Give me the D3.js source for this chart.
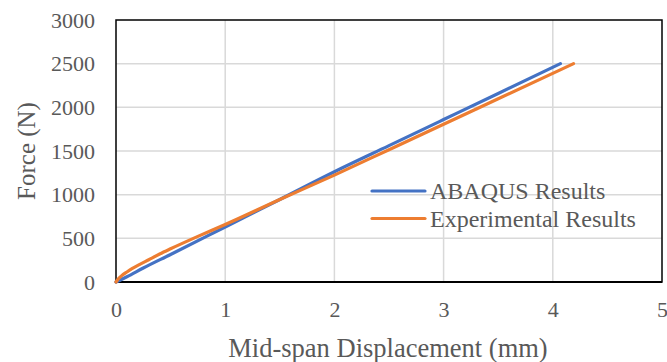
<!DOCTYPE html>
<html>
<head>
<meta charset="utf-8">
<script src="https://cdn.jsdelivr.net/npm/d3@7"></script>
<style>
  body { margin: 0; background: #fff; }
  text { font-family: "Liberation Serif", "Times New Roman", serif; fill: #595959; }
</style>
</head>
<body>
<div class="canvas"></div>
<script>
// displacement (mm) / force (N)
const abaqusDisp = [0, 0.1, 0.25, 0.5, 1, 1.5, 2, 2.5, 3, 3.5, 4.07];
const abaqusForce = [0, 60, 160, 315, 630, 945, 1262, 1561, 1860, 2159, 2500];
const expDisp = [0, 0.02, 0.05, 0.1, 0.15, 0.2, 0.3, 0.4, 0.5, 0.75, 1, 1.5, 2, 2.5, 3, 3.5, 4.19];
const expForce = [0, 35, 70, 115, 155, 190, 255, 320, 380, 522, 658, 945, 1224, 1515, 1807, 2098, 2500];
const xTicks = [0, 1, 2, 3, 4, 5];
const yTicks = [0, 500, 1000, 1500, 2000, 2500, 3000];
const seriesNames = ["ABAQUS Results", "Experimental Results"];
const seriesColors = ["#4472C4", "#ED7D31"];

const w = 667, h = 362;
const m = { left: 116, right: 5, top: 20, bottom: 80 };

const svg = d3.select(".canvas").append("svg").attr("width", w).attr("height", h);

const x = d3.scaleLinear([0, 5], [m.left, w - m.right]);
const y = d3.scaleLinear([0, 3000], [h - m.bottom, m.top]);

// grid
svg.append("g").selectAll("line").data(xTicks.slice(1, -1)).join("line")
  .attr("x1", d => x(d)).attr("x2", d => x(d))
  .attr("y1", y(0)).attr("y2", y(3000))
  .attr("stroke", "#d9d9d9").attr("stroke-width", 1.5);
svg.append("g").selectAll("line").data(yTicks.slice(1, -1)).join("line")
  .attr("x1", x(0)).attr("x2", x(5))
  .attr("y1", d => y(d)).attr("y2", d => y(d))
  .attr("stroke", "#d9d9d9").attr("stroke-width", 1.5);

// frame
svg.append("rect")
  .attr("x", x(0)).attr("y", y(3000))
  .attr("width", x(5) - x(0)).attr("height", y(0) - y(3000))
  .attr("fill", "none").attr("stroke", "#000").attr("stroke-width", 1.5);
svg.append("line")
  .attr("x1", x(0)).attr("x2", x(5)).attr("y1", y(0)).attr("y2", y(0))
  .attr("stroke", "#000").attr("stroke-width", 2);

// axes (labels only)
const xAxis = d3.axisBottom(x).tickValues(xTicks).tickSize(0).tickPadding(19).tickFormat(d3.format("d"));
svg.append("g").attr("transform", `translate(0, ${y(0)})`).call(xAxis)
  .call(g => g.select(".domain").remove())
  .selectAll("text").style("font-size", "22px").attr("fill", "#595959");
const yAxis = d3.axisLeft(y).tickValues(yTicks).tickSize(0).tickPadding(21).tickFormat(d3.format("d"));
svg.append("g").attr("transform", `translate(${x(0)}, 0)`).call(yAxis)
  .call(g => g.select(".domain").remove())
  .selectAll("text").style("font-size", "22px").attr("fill", "#595959");

// lines
const line = d3.line().x(d => x(d[0])).y(d => y(d[1])).curve(d3.curveMonotoneX);
const series = [
  d3.zip(abaqusDisp, abaqusForce),
  d3.zip(expDisp, expForce)
];
svg.append("g").selectAll("path").data(series).join("path")
  .attr("d", line)
  .attr("fill", "none")
  .attr("stroke", (d, i) => seriesColors[i])
  .attr("stroke-width", 3.2)
  .attr("stroke-linecap", "round");

// titles
svg.append("text").attr("x", (x(0) + x(5)) / 2 - 1).attr("y", 357)
  .attr("text-anchor", "middle").style("font-size", "26.5px")
  .text("Mid-span Displacement (mm)");
svg.append("text").attr("transform", `translate(35, ${(y(0) + y(3000)) / 2}) rotate(-90)`)
  .attr("text-anchor", "middle").style("font-size", "25px")
  .text("Force (N)");

// legend
const legend = svg.append("g").selectAll("g").data(seriesNames).join("g")
  .attr("transform", (d, i) => `translate(372, ${191 + i * 27.5})`);
legend.append("line").attr("x1", 0).attr("x2", 53)
  .attr("stroke", (d, i) => seriesColors[i]).attr("stroke-width", 3.2)
  .attr("stroke-linecap", "round");
legend.append("text").attr("x", 58).attr("y", 8)
  .style("font-size", "24px").text(d => d);
</script>
</body>
</html>
